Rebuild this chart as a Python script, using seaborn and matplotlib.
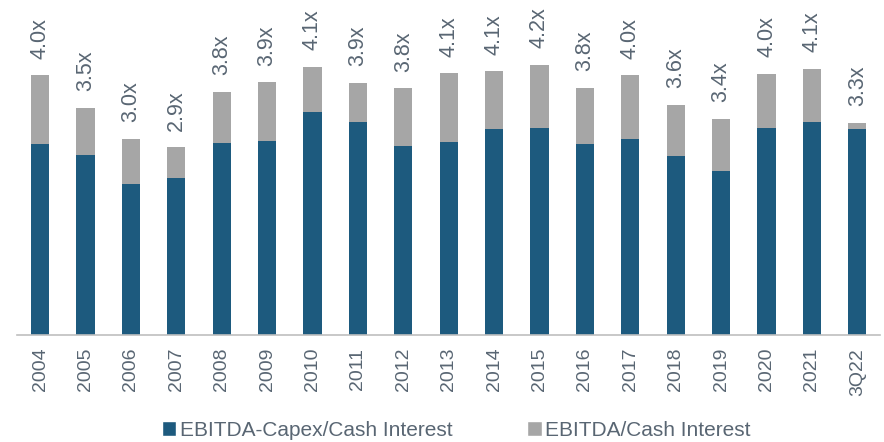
import pandas as pd
import matplotlib
matplotlib.use("Agg")
import matplotlib.pyplot as plt
import seaborn as sns
from matplotlib.patches import Patch

# --- Dati ---
periods = ["2004", "2005", "2006", "2007", "2008", "2009", "2010", "2011", "2012", "2013",
           "2014", "2015", "2016", "2017", "2018", "2019", "2020", "2021", "3Q22"]
ebitda_capex = [2.97, 2.80, 2.35, 2.44, 2.99, 3.02, 3.47, 3.31, 2.94, 3.00,
                3.20, 3.22, 2.97, 3.05, 2.78, 2.55, 3.22, 3.31, 3.20]
ebitda_total = [4.04, 3.53, 3.05, 2.92, 3.78, 3.93, 4.17, 3.92, 3.84, 4.07,
                4.10, 4.20, 3.85, 4.04, 3.58, 3.36, 4.06, 4.14, 3.30]
value_labels = ["4.0x", "3.5x", "3.0x", "2.9x", "3.8x", "3.9x", "4.1x", "3.9x", "3.8x", "4.1x",
                "4.1x", "4.2x", "3.8x", "4.0x", "3.6x", "3.4x", "4.0x", "4.1x", "3.3x"]

dark_blue = "#1d5a7e"
gray = "#a6a6a6"
text_col = "#596673"
axis_col = "#bfbfbf"

df = pd.DataFrame({"period": periods, "capex": ebitda_capex, "total": ebitda_total})

sns.set_style("white")
plt.rcParams["font.family"] = ["Liberation Sans", "DejaVu Sans"]

fig = plt.figure(figsize=(8.84, 4.42), dpi=100)
ax = fig.add_axes([0.0196, 0.2414, 0.9759, 0.7586])

sns.barplot(data=df, x="period", y="total", color=gray, width=0.4, saturation=1,
            linewidth=0, ax=ax)
sns.barplot(data=df, x="period", y="capex", color=dark_blue, width=0.4, saturation=1,
            linewidth=0, ax=ax)

# etichette valori
for i, (tot, lab) in enumerate(zip(ebitda_total, value_labels)):
    ax.annotate(lab, (i, tot), xytext=(0, 12), textcoords="offset points",
                rotation=90, ha="center", va="bottom", fontsize=15.5, color=text_col)

ax.set_xlim(-0.5, len(periods) - 0.5)
ax.set_ylim(0, 5.21)
ax.set_xlabel("")
ax.set_ylabel("")
ax.set_yticks([])

for side in ["top", "right", "left"]:
    ax.spines[side].set_visible(False)
ax.spines["bottom"].set_color(axis_col)
ax.spines["bottom"].set_linewidth(1.2)

ax.set_xticks(range(len(periods)))
ax.set_xticklabels(periods, rotation=90, fontsize=14, color=text_col)
ax.tick_params(axis="x", which="major", length=0, pad=9)
ax.set_xticks([i - 0.5 for i in range(len(periods) + 1)], minor=True)
ax.tick_params(axis="x", which="minor", length=5, width=1.2, color=axis_col, direction="out")

handles = [Patch(facecolor=dark_blue, label="EBITDA-Capex/Cash Interest"),
           Patch(facecolor=gray, label="EBITDA/Cash Interest")]
leg = fig.legend(handles=handles, loc="center", bbox_to_anchor=(0.516, 0.027), ncol=2,
                 frameon=False, fontsize=15, handlelength=0.7, handleheight=0.7,
                 handletextpad=0.15, columnspacing=3.6)
for t in leg.get_texts():
    t.set_color(text_col)

fig.savefig("out.png", dpi=100)
